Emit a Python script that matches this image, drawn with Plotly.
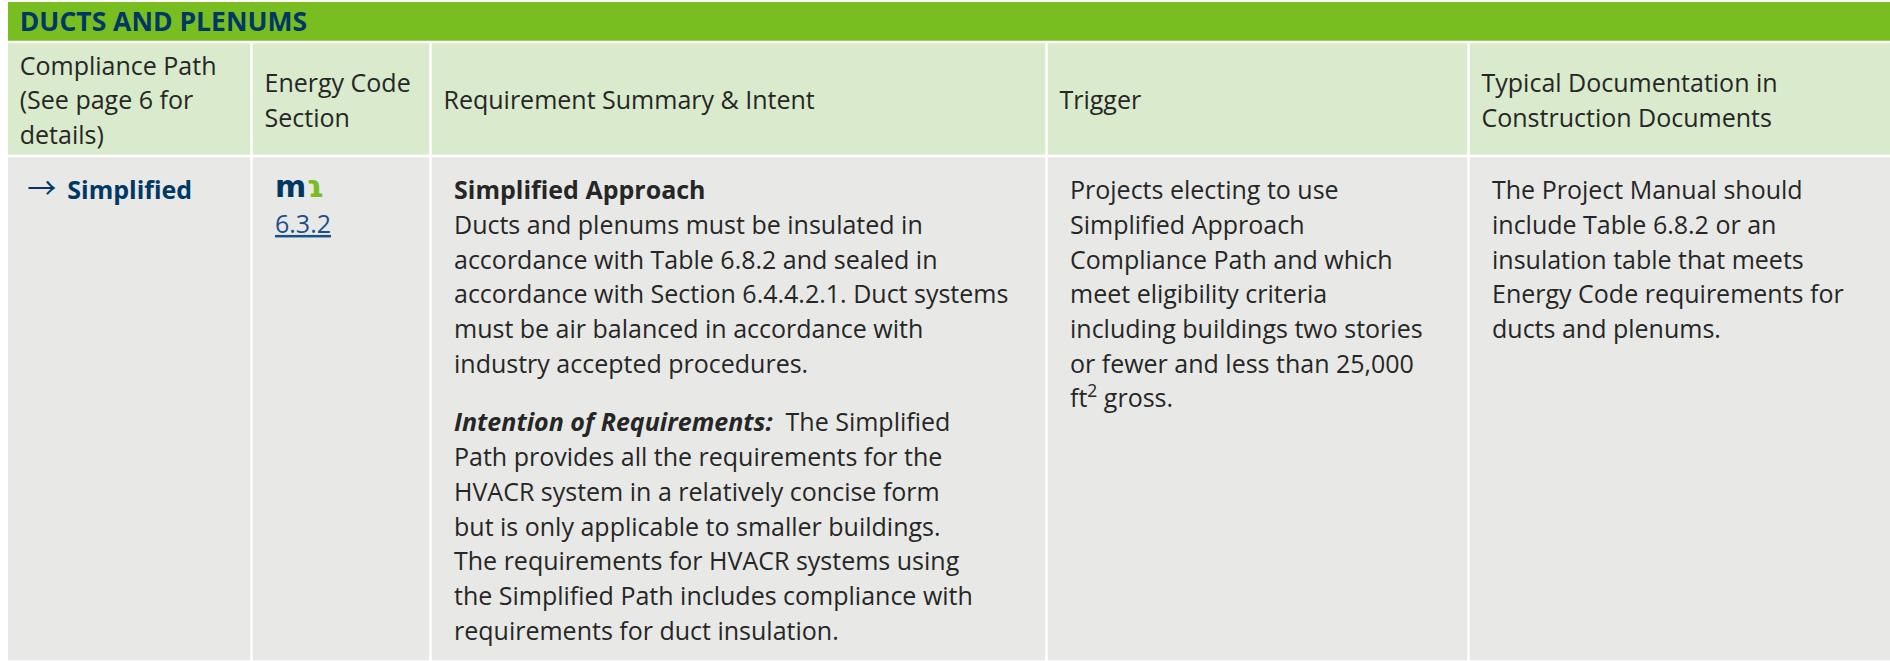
import plotly.graph_objects as go

# ---------------- data (text content of the table) ----------------
title = "DUCTS AND PLENUMS"
headers = [
    ["Compliance Path", "(See page 6 for", "details)"],
    ["Energy Code", "Section"],
    ["Requirement Summary & Intent"],
    ["Trigger"],
    ["Typical Documentation in", "Construction Documents"],
]
path_arrow = "\u2192"
path_name = "Simplified"
code_section = "6.3.2"
req_heading = "Simplified Approach"
req_para1 = [
    "Ducts and plenums must be insulated in",
    "accordance with Table 6.8.2 and sealed in",
    "accordance with Section 6.4.4.2.1. Duct systems",
    "must be air balanced in accordance with",
    "industry accepted procedures.",
]
intent_label = "Intention of Requirements:"
req_para2 = [
    "\u00a0 The Simplified",
    "Path provides all the requirements for the",
    "HVACR system in a relatively concise form",
    "but is only applicable to smaller buildings.",
    "The requirements for HVACR systems using",
    "the Simplified Path includes compliance with",
    "requirements for duct insulation.",
]
trigger_lines = [
    "Projects electing to use",
    "Simplified Approach",
    "Compliance Path and which",
    "meet eligibility criteria",
    "including buildings two stories",
    "or fewer and less than 25,000",
    "ft<sup>2</sup> gross.",
]
doc_lines = [
    "The Project Manual should",
    "include Table 6.8.2 or an",
    "insulation table that meets",
    "Energy Code requirements for",
    "ducts and plenums.",
]

# ---------------- layout constants ----------------
W, H = 1890, 661
X0 = 6.75
COL_WIDTHS = [244.75, 179, 616, 422, 430]
ROW_EDGES = [0.75, 42, 156, 661.5]
GAP = 2.5
HEAD_PAD = 13
BODY_PAD = 23.5
LINE_H = 34.7
PARA_GAP = 24
Y_SHIFT = 3
FONT = "Open Sans"
FS = 25

GREEN = "#78BE20"
NAVY = "#003865"
HEAD_FILL = "#DAEACD"
BODY_FILL = "#E8E9E6"
TEXT = "#262626"
LINK = "#1B4F8A"

x_edges = [X0]
for w in COL_WIDTHS:
    x_edges.append(x_edges[-1] + w)

fig = go.Figure()
shapes = []
# title bar
shapes.append(dict(type="rect", xref="x", yref="y", x0=x_edges[0] + GAP / 2, x1=x_edges[-1],
                   y0=ROW_EDGES[0] + GAP / 2, y1=ROW_EDGES[1] - GAP / 2,
                   fillcolor=GREEN, line=dict(width=0), layer="below"))
# header + body cells
for r, fill in [(1, HEAD_FILL), (2, BODY_FILL)]:
    for c in range(len(COL_WIDTHS)):
        shapes.append(dict(type="rect", xref="x", yref="y",
                           x0=x_edges[c] + GAP / 2, x1=x_edges[c + 1] - GAP / 2,
                           y0=ROW_EDGES[r] + GAP / 2, y1=ROW_EDGES[r + 1] - GAP / 2,
                           fillcolor=fill, line=dict(width=0), layer="below"))


def add_text(xs, ys, texts, size=FS, color=TEXT, family=FONT):
    fig.add_trace(go.Scatter(
        x=xs, y=[v + Y_SHIFT for v in ys], text=texts, mode="text", textposition="middle right",
        textfont=dict(family=family, size=size, color=color),
        hoverinfo="skip", showlegend=False, cliponaxis=False))


# title
title_y = (ROW_EDGES[0] + ROW_EDGES[1]) / 2
add_text([x_edges[0] + HEAD_PAD], [title_y], [f"<b>{title}</b>"], size=26.5, color=NAVY)

# headers (vertically centred in header row)
head_mid = (ROW_EDGES[1] + ROW_EDGES[2]) / 2 + 1
hx, hy, ht = [], [], []
for c, lines in enumerate(headers):
    n = len(lines)
    for i, line in enumerate(lines):
        hx.append(x_edges[c] + HEAD_PAD)
        hy.append(head_mid + (i - (n - 1) / 2) * LINE_H)
        ht.append(line)
add_text(hx, hy, ht)

# body
b0 = ROW_EDGES[2] + 34
bx = [x_edges[c] + BODY_PAD for c in range(len(COL_WIDTHS))]

add_text([bx[0] - 3], [b0 - 1], [path_arrow], size=29, color=NAVY, family="Noto Sans CJK JP")
add_text([bx[0] + 37], [b0], [f"<b>{path_name}</b>"], color=NAVY)
add_text([bx[1]], [b0 - 4],
         [f"<b><span style='color:{NAVY}'>m</span><span style='color:{GREEN}'>\u027f</span></b>"],
         size=30, family="DejaVu Sans")
add_text([bx[1]], [b0 + LINE_H - 1], [f"<u>{code_section}</u>"], color=LINK)

col3_lines = [f"<b>{req_heading}</b>"] + req_para1
ys = [b0 + i * LINE_H for i in range(len(col3_lines))]
start2 = ys[-1] + LINE_H + PARA_GAP
col3_lines2 = [f"<b><i>{intent_label}</i></b>" + req_para2[0]] + req_para2[1:]
ys2 = [start2 + i * LINE_H for i in range(len(col3_lines2))]
add_text([bx[2]] * (len(ys) + len(ys2)), ys + ys2, col3_lines + col3_lines2)

add_text([bx[3]] * len(trigger_lines), [b0 + i * LINE_H for i in range(len(trigger_lines))], trigger_lines)
add_text([bx[4]] * len(doc_lines), [b0 + i * LINE_H for i in range(len(doc_lines))], doc_lines)

fig.update_layout(
    width=W, height=H, margin=dict(l=0, r=0, t=0, b=0),
    paper_bgcolor="white", plot_bgcolor="white",
    shapes=shapes,
    xaxis=dict(range=[0, W], visible=False, fixedrange=True),
    yaxis=dict(range=[H, 0], visible=False, fixedrange=True),
)

fig.write_html("out.html", config={"displayModeBar": False, "staticPlot": True},
               post_script="document.body.style.margin='0';document.body.style.overflow='hidden';")
